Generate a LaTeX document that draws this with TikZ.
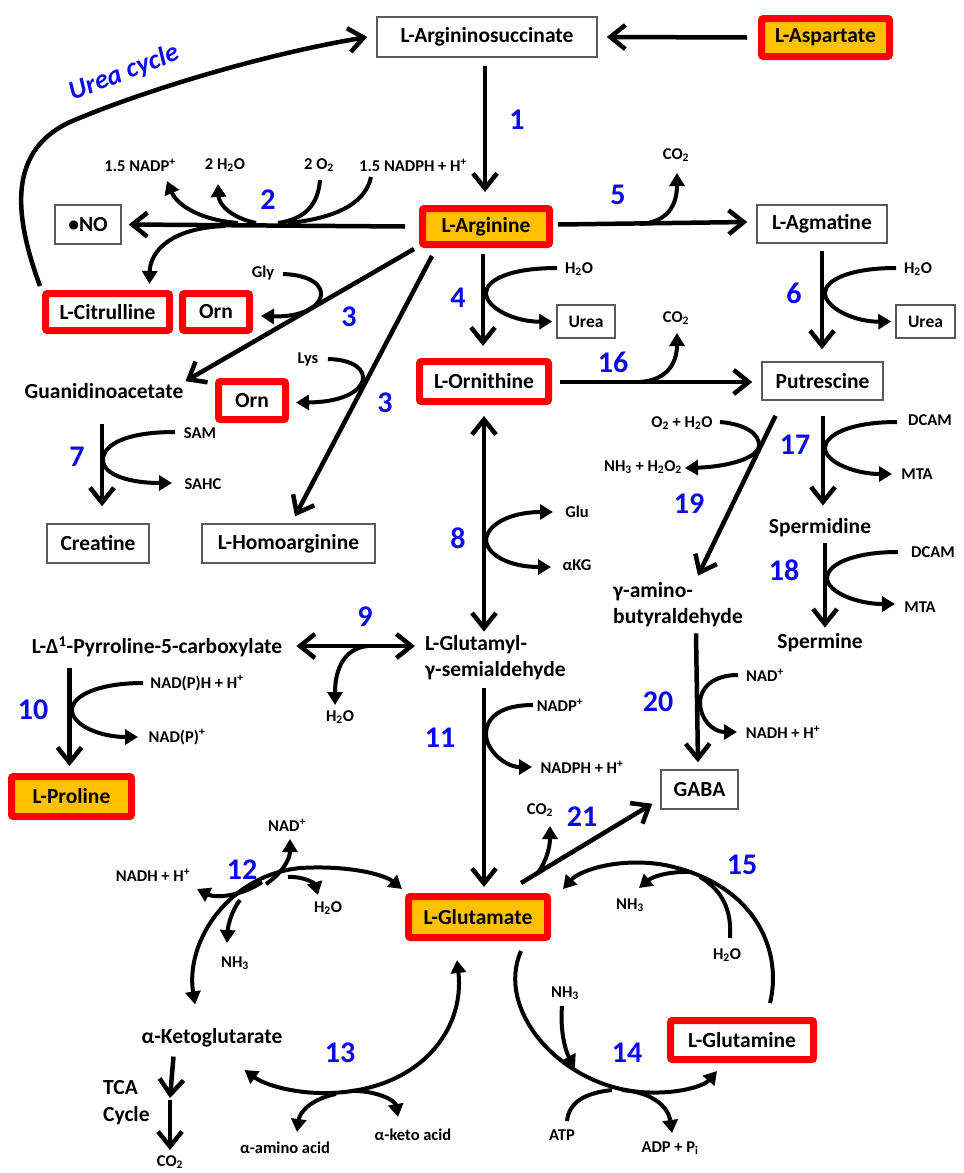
\documentclass[tikz,border=0pt]{standalone}
\usepackage{fontspec}
\setmainfont{Carlito}
\usetikzlibrary{arrows.meta,calc}
\definecolor{gold}{RGB}{255,192,0}
\definecolor{numblue}{RGB}{10,10,235}
\definecolor{boxgray}{RGB}{90,90,90}
\newcommand\myfs[1]{\fontsize{#1}{#1}\selectfont}
\begin{document}
\begin{tikzpicture}[x=1pt,y=-1pt,
  ar/.style={line width=4.5pt,-{Straight Barb[length=15pt,width=24pt]}},
  dar/.style={line width=4.5pt,{Straight Barb[length=15pt,width=24pt]}-{Straight Barb[length=15pt,width=24pt]}},
  sd/.style={line width=4pt,-{Triangle[length=13pt,width=15pt]}},
  dsd/.style={line width=4pt,{Triangle[length=13pt,width=15pt]}-{Triangle[length=13pt,width=15pt]}},
  ln/.style={line width=4pt},
  lab/.style={font=\myfs{16.5}\bfseries,inner sep=0pt},
  num/.style={font=\myfs{30}\bfseries,text=numblue,inner sep=0pt},
  bigt/.style={font=\myfs{21.5}\bfseries,inner sep=0pt},
  rbox/.style={bigt,draw=red,line width=7pt,fill=gold,rounded corners=2pt},
  wbox/.style={rbox,fill=white},
  gbox/.style={bigt,draw=boxgray,line width=1.5pt,fill=white},
]
\useasboundingbox (0,0) rectangle (964,1173);
\fill[white] (0,0) rectangle (964,1173);

% ---------- boxes ----------
\node[gbox,minimum width=220pt,minimum height=40pt] (asuc) at (487,37) {L-Argininosuccinate};
\node[rbox,minimum width=128pt,minimum height=38pt] (asp) at (825.5,37.5) {L-Aspartate};
\node[rbox,minimum width=127pt,minimum height=36pt] (arg) at (486,226.5) {L-Arginine};
\node[gbox,minimum width=66pt,minimum height=39pt] (no) at (88,224.5) {•NO};
\node[wbox,minimum width=124pt,minimum height=37pt] (cit) at (107.5,312) {L-Citrulline};
\node[wbox,minimum width=67pt,minimum height=37pt] (orn1) at (216,312) {Orn};
\node[wbox,minimum width=67pt,minimum height=38pt] (orn2) at (252,400.5) {Orn};
\node[wbox,minimum width=129pt,minimum height=40pt] (lorn) at (484,381.5) {L-Ornithine};
\node[gbox,minimum width=130pt,minimum height=38pt] (agm) at (822,224) {L-Agmatine};
\node[gbox,font=\myfs{17.5}\bfseries,minimum width=58pt,minimum height=33pt] (urea1) at (586,321.5) {Urea};
\node[gbox,font=\myfs{17.5}\bfseries,minimum width=59pt,minimum height=33pt] (urea2) at (925.5,321.5) {Urea};
\node[gbox,minimum width=121pt,minimum height=38pt] (put) at (822.5,381) {Putrescine};
\node[gbox,minimum width=102pt,minimum height=39pt] (cre) at (98,543.5) {Creatine};
\node[gbox,minimum width=173pt,minimum height=39pt] (hom) at (288.5,543.5) {L-Homoarginine};
\node[gbox,minimum width=77pt,minimum height=39pt] (gaba) at (699.5,789.5) {GABA};
\node[rbox,minimum width=120pt,minimum height=40pt] (pro) at (71.5,796.5) {L-Proline};
\node[rbox,minimum width=139pt,minimum height=41pt] (glu) at (478,917) {L-Glutamate};
\node[wbox,minimum width=143pt,minimum height=39pt] (gln) at (742,1040) {L-Glutamine};

% ---------- free texts ----------
\node[bigt] (guan) at (104,391) {Guanidinoacetate};
\node[bigt] (spd) at (820,528) {Spermidine};
\node[bigt] (spm) at (820,643) {Spermine};
\node[bigt,font=\fontsize{21.5}{26}\selectfont\bfseries,align=left,anchor=west] (gab) at (613,605) {γ-amino-\\butyraldehyde};
\node[bigt,font=\fontsize{21.5}{26}\selectfont\bfseries,align=left,anchor=west] (glut) at (425,658) {L-Glutamyl-\\γ-semialdehyde};
\node[bigt] (p5c) at (157,647) {L-Δ\textsuperscript{1}-Pyrroline-5-carboxylate};
\node[bigt] (akg) at (212,1038) {α-Ketoglutarate};
\node[bigt,font=\fontsize{21.5}{27}\selectfont\bfseries,align=left,anchor=west] (tca) at (103,1103) {TCA\\Cycle};
\node[font=\myfs{27}\bfseries\itshape,text=numblue,rotate=21,inner sep=0pt] (uc) at (124,73) {Urea cycle};

% ---------- small labels ----------
\node[lab] (l2a) at (140,165) {1.5 NADP\textsuperscript{+}};
\node[lab] (l2b) at (225,165) {2 H\textsubscript{2}O};
\node[lab] (l2c) at (319,165) {2 O\textsubscript{2}};
\node[lab] (l2d) at (413,165) {1.5 NADPH + H\textsuperscript{+}};
\node[lab] (gly) at (263,273) {Gly};
\node[lab] (lys) at (308,359) {Lys};
\node[lab] (sam) at (200,433) {SAM};
\node[lab] (sahc) at (203,484) {SAHC};
\node[lab] (w4) at (579,269) {H\textsubscript{2}O};
\node[lab] (w6) at (918,269) {H\textsubscript{2}O};
\node[lab] (c5) at (676,155) {CO\textsubscript{2}};
\node[lab] (c16) at (676,318) {CO\textsubscript{2}};
\node[lab] (o19) at (682,423) {O\textsubscript{2} + H\textsubscript{2}O};
\node[lab] (n19) at (643,467) {NH\textsubscript{3} + H\textsubscript{2}O\textsubscript{2}};
\node[lab] (dc17) at (930,420) {DCAM};
\node[lab] (mt17) at (917,474) {MTA};
\node[lab] (dc18) at (933,552) {DCAM};
\node[lab] (mt18) at (920,607) {MTA};
\node[lab] (glu8) at (577,512) {Glu};
\node[lab] (akg8) at (577,565) {αKG};
\node[lab] (nad20) at (765,675) {NAD\textsuperscript{+}};
\node[lab] (nadh20) at (783,732) {NADH + H\textsuperscript{+}};
\node[lab] (nadp11) at (560,705) {NADP\textsuperscript{+}};
\node[lab] (nadph11) at (582,767) {NADPH + H\textsuperscript{+}};
\node[lab] (n10a) at (197,683) {NAD(P)H + H\textsuperscript{+}};
\node[lab] (n10b) at (177,737) {NAD(P)\textsuperscript{+}};
\node[lab] (w9) at (340,717) {H\textsubscript{2}O};
\node[lab] (c21) at (540,810) {CO\textsubscript{2}};
\node[lab] (nadh12) at (153,875) {NADH + H\textsuperscript{+}};
\node[lab] (nad12) at (287,825) {NAD\textsuperscript{+}};
\node[lab] (w12) at (328,908) {H\textsubscript{2}O};
\node[lab] (nh12) at (235,963) {NH\textsubscript{3}};
\node[lab] (nh15) at (630,905) {NH\textsubscript{3}};
\node[lab] (w15) at (727,955) {H\textsubscript{2}O};
\node[lab] (nh14) at (565,993) {NH\textsubscript{3}};
\node[lab] (atp) at (562,1135) {ATP};
\node[lab] (adp) at (670,1148) {ADP + P\textsubscript{i}};
\node[lab] (aaa) at (285,1148) {α-amino acid};
\node[lab] (aka) at (413,1135) {α-keto acid};
\node[lab] (co2b) at (170,1162) {CO\textsubscript{2}};

% ---------- numbers ----------
\node[num] (n1) at (517,120) {1};
\node[num] (n2) at (268,200) {2};
\node[num] (n3a) at (349,317) {3};
\node[num] (n3b) at (385,403) {3};
\node[num] (n4) at (458,298) {4};
\node[num] (n5) at (618,195) {5};
\node[num] (n6) at (794,293) {6};
\node[num] (n7) at (77,457) {7};
\node[num] (n8) at (458,538) {8};
\node[num] (n9) at (365,617) {9};
\node[num] (n10) at (33,710) {10};
\node[num] (n11) at (440,738) {11};
\node[num] (n12) at (242,870) {12};
\node[num] (n13) at (340,1053) {13};
\node[num] (n14) at (627,1053) {14};
\node[num] (n15) at (742,865) {15};
\node[num] (n16) at (613,362) {16};
\node[num] (n17) at (795,445) {17};
\node[num] (n18) at (784,570) {18};
\node[num] (n19) at (689,504) {19};
\node[num] (n20) at (658,702) {20};
\node[num] (n21) at (582,817) {21};

% ---------- main connectors ----------
\draw[ar] ($(asp.west)+(-11,0)$) -- ($(asuc.east)+(9,0)$);
\draw[ar] ($(asuc.south)+(-2,8)$) -- ($(arg.north)+(-1,-13)$);
\draw[ar] ($(cit.north west)+(-2,-4)$) .. controls (12,210) and (10,150) .. (70,122) .. controls (140,92) and (260,55) .. ($(asuc.west)+(-9,0)$);
\draw[ar] ($(arg.west)+(-14,0)$) -- ($(no.east)+(7,0)$);
\draw[ar] ($(arg.east)+(5,-2)$) -- ($(agm.west)+(-9,-2)$);
\draw[ar] ($(arg.south)+(-3,6)$) -- ($(lorn.north)+(-1,-12)$);
\draw[ar] ($(arg.south west)+(-5,1)$) -- ($(guan.north east)+(2,-2)$);
\draw[ar] ($(arg.south west)+(13,8)$) -- ($(hom.north)+(6.5,-7)$);
\draw[ar] ($(agm.south)+(0,7)$) -- ($(put.north)+(-0.5,-12)$);
\draw[ar] ($(lorn.east)+(8,0.5)$) -- ($(put.west)+(-9,1)$);
\draw[ar] ($(put.south)+(0.5,15)$) -- ($(spd.north)+(3,-13)$);
\draw[ar] ($(spd.south)+(5,6)$) -- ($(spm.north)+(5,-6)$);
\draw[ar] ($(put.south)+(-47,15)$) -- ($(gab.north)+(20,-7)$);
\draw[ar] ($(gab.south)+(18,6)$) -- ($(gaba.north)+(-1.5,-7)$);
\draw[ar] ($(cre.north |- guan.south)+(4,25)$) -- ($(cre.north)+(4,-17)$);
\draw[dar] ($(lorn.south)+(0,11)$) -- ($(lorn.south |- glut.north)+(0,-4)$);
\draw[dar] ($(p5c.east)+(14,-1)$) -- ($(glut.west |- p5c.east)+(-10,-1)$);
\draw[ar] ($(pro.north |- p5c.south)+(-2,10)$) -- ($(pro.north)+(-2,-7)$);
\draw[ar] ($(lorn.south |- glut.south)+(0,8)$) -- ($(lorn.south |- glu.north)+(0,-6)$);
\draw[ar] ($(glu.north east)+(-30,-10)$) -- ($(gaba.south west)+(-8,-6)$);
\coordinate (tcamid) at (170,1100);
\draw[ar] ($(akg.south west)+(32,9)$) -- ($(tcamid)+(0,-2)$);
\draw[ar] (tcamid) -- ($(co2b.north)+(0,-5)$);

% ---------- side curves ----------
% 2
\draw[sd] (238,223) .. controls (200,220) and (177,205) .. (167,181);
\draw[sd] (256,223) .. controls (232,218) and (219,205) .. (218,184);
\draw[ln] (320,180) .. controls (318,205) and (305,219) .. (278,223);
\draw[ln] (371,177) .. controls (365,206) and (330,219) .. (288,223);
\draw[sd] (225,226) .. controls (170,228) and (150,252) .. ($(cit.north)+(42,-6)$);
% 3
\draw[sd] (283,274) .. controls (340,276) and (330,318) .. ($(orn1.east)+(8,4)$);
\draw[sd] (328,359) .. controls (380,360) and (375,402) .. ($(orn2.east)+(7,2)$);
% 7
\draw[sd] (175,432) .. controls (125,432) and (103,445) .. (103,460) .. controls (103,475) and (130,483) .. (172,483);
% 4, 6
\draw[sd] (557,268) .. controls (510,268) and (486,280) .. (486,293) .. controls (486,308) and (515,322) .. ($(urea1.west)+(-4,0)$);
\draw[sd] (896,268) .. controls (850,268) and (825,280) .. (825,293) .. controls (825,308) and (855,322) .. ($(urea2.west)+(-4,0)$);
% 5, 16
\draw[sd] (640,224) .. controls (668,222) and (677,205) .. (677,173);
\draw[sd] (640,382) .. controls (668,380) and (677,362) .. (677,333);
% 17, 18
\draw[sd] (897,422) .. controls (850,422) and (825,435) .. (825,448) .. controls (825,462) and (855,474) .. (892,474);
\draw[sd] (898,552) .. controls (852,552) and (827,565) .. (827,578) .. controls (827,592) and (857,604) .. (895,604);
% 19
\draw[sd] (720,422) .. controls (745,424) and (760,434) .. (759,446) .. controls (757,460) and (722,467) .. (685,468);
% 20
\draw[sd] (738,675) .. controls (713,675) and (700,688) .. (700,703) .. controls (700,718) and (712,732) .. (737,732);
% 8
\draw[sd] (486,541) .. controls (486,525) and (510,512) .. (553,512);
\draw[sd] (486,539) .. controls (486,555) and (510,567) .. (551,567);
% 9
\draw[sd] (368,646) .. controls (345,648) and (335,668) .. (335,705);
% 10
\draw[sd] (143,683) .. controls (100,683) and (72,695) .. (72,710) .. controls (72,725) and (100,737) .. (138,737);
% 11
\draw[sd] (533,705) .. controls (500,705) and (486,718) .. (486,734) .. controls (486,750) and (505,767) .. (532,767);
% 21
\draw[sd] (537,874) .. controls (546,862) and (550,848) .. (550,826);
% 15
\draw[sd] ($(gln.north east)+(-47,-14)$) .. controls (782,955) and (760,885) .. (665,865) .. controls (620,857) and (580,870) .. ($(glu.north east)+(12,-4)$);
\draw[sd] (692,872) .. controls (668,871) and (652,877) .. (639,888);
\draw[ln] (730,938) .. controls (732,910) and (722,890) .. (700,877);
% 14
\draw[sd] ($(glu.south east)+(-30,10)$) .. controls (495,1010) and (560,1085) .. (640,1092) .. controls (680,1095) and (705,1085) .. ($(gln.south west)+(50,8)$);
\draw[sd] (562,1006) .. controls (560,1030) and (565,1050) .. (575,1068);
\draw[ln] (567,1121) .. controls (569,1102) and (585,1093) .. (612,1090);
\draw[sd] (622,1090) .. controls (650,1092) and (668,1105) .. (672,1133);
% 12
\draw[dsd] ($(akg.north)+(-17,-24)$) .. controls (185,940) and (230,875) .. (300,868) .. controls (350,865) and (385,875) .. ($(glu.north west)+(-3,-4)$);
\draw[sd] (262,882) .. controls (240,897) and (215,898) .. (197,889);
\draw[sd] (266,884) .. controls (281,874) and (290,860) .. (290,839);
\draw[sd] (288,877) .. controls (304,876) and (315,884) .. (318,895);
\draw[sd] (240,900) .. controls (232,910) and (228,925) .. (227,943);
% 13
\draw[dsd] ($(glu.south)+(-21,19)$) .. controls (465,1030) and (420,1090) .. (330,1093) .. controls (295,1094) and (265,1085) .. ($(akg.east)+(-38,32)$);
\draw[sd] (336,1094) .. controls (315,1098) and (300,1110) .. (297,1132);
\draw[sd] (350,1091) .. controls (375,1090) and (395,1100) .. (398,1117);
\end{tikzpicture}
\end{document}
